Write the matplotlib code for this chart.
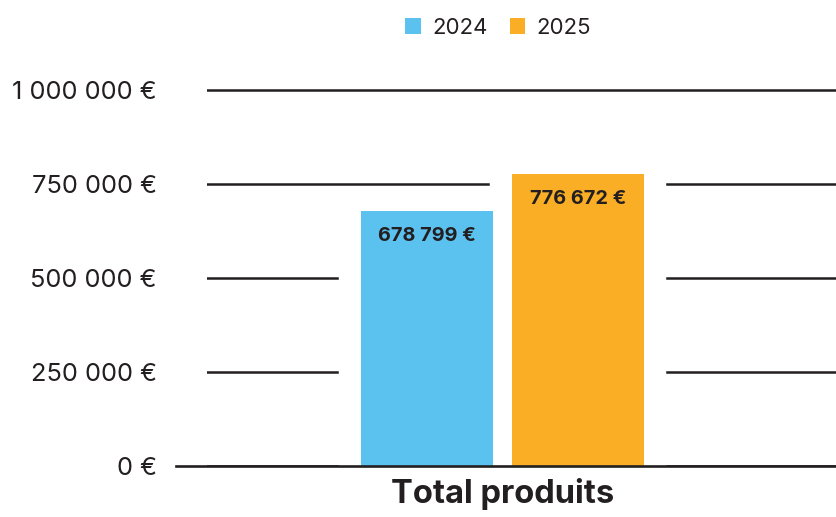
import matplotlib
matplotlib.use("Agg")
import matplotlib.pyplot as plt
from matplotlib.patches import Patch

categories = ["Total produits"]
years = ["2024", "2025"]
values_2024 = [678799]
values_2025 = [776672]
yticks = [0, 250000, 500000, 750000, 1000000]
ytick_labels = ["0 €", "250 000 €", "500 000 €", "750 000 €", "1 000 000 €"]
bar_labels_2024 = ["678 799 €"]
bar_labels_2025 = ["776 672 €"]

colors = ["#5BC1EF", "#FAAE26"]
text_color = "#231F20"
line_color = "#231F20"

plt.rcParams['font.family'] = ['Inter', 'DejaVu Sans']

W, H = 836, 517
fig = plt.figure(figsize=(W / 100, H / 100), dpi=100)
ax_left, ax_right = 207, 836
y0_px, ytop_px = 466, 60
ax = fig.add_axes([ax_left / W, (H - y0_px) / H, (ax_right - ax_left) / W, (y0_px - ytop_px) / H])

unit = 377.0  # px per x unit
center_px = 502.5
ax.set_xlim(-(center_px - ax_left) / unit, (ax_right - center_px) / unit)
ax.set_ylim(0, 1e6 * (y0_px - ytop_px) / 376.0)

bw = 132 / unit
off = (132 + 19) / 2 / unit
xs = list(range(len(categories)))
series = [values_2024, values_2025]
labels = [bar_labels_2024, bar_labels_2025]

ax.set_axisbelow(True)
ax.yaxis.grid(True, color=line_color, linewidth=1.8)
ax.xaxis.grid(False)

for i, (vals, lab) in enumerate(zip(series, labels)):
    pos = [x + (i - 0.5) * 2 * off for x in xs]
    # white mask hiding gridlines around bars
    ax.bar(pos, vals, width=bw, color="white", edgecolor="white", linewidth=32, zorder=1)
    ax.bar(pos, vals, width=bw, color=colors[i], linewidth=0, zorder=2)
    for p, v, t in zip(pos, vals, lab):
        ax.annotate(t, (p, v), xytext=(0, -18), textcoords="offset points",
                    ha="center", va="center", fontsize=14.3, fontweight="bold",
                    color=text_color, zorder=3)

ax.axhline(0, xmin=(176 - ax_left) / (ax_right - ax_left), xmax=1, color=line_color,
           linewidth=1.9, clip_on=False, zorder=4)

ax.set_yticks(yticks)
ax.set_yticklabels(ytick_labels, fontsize=18.3, color=text_color)
ax.tick_params(axis="y", length=0, pad=36)
ax.set_xticks(xs)
ax.set_xticklabels(categories, fontsize=23.5, fontweight="bold", color=text_color)
ax.tick_params(axis="x", length=0, pad=9)
for s in ax.spines.values():
    s.set_visible(False)

handles = [Patch(facecolor=c, edgecolor="none") for c in colors]
fig.legend(handles, years, loc="upper center", bbox_to_anchor=(498 / W, 1.0 + 2 / H),
           ncol=2, frameon=False, fontsize=16, handlelength=0.7, handleheight=0.7,
           handletextpad=0.5, columnspacing=1.0, labelcolor=text_color)

fig.savefig("out.png", dpi=100)
